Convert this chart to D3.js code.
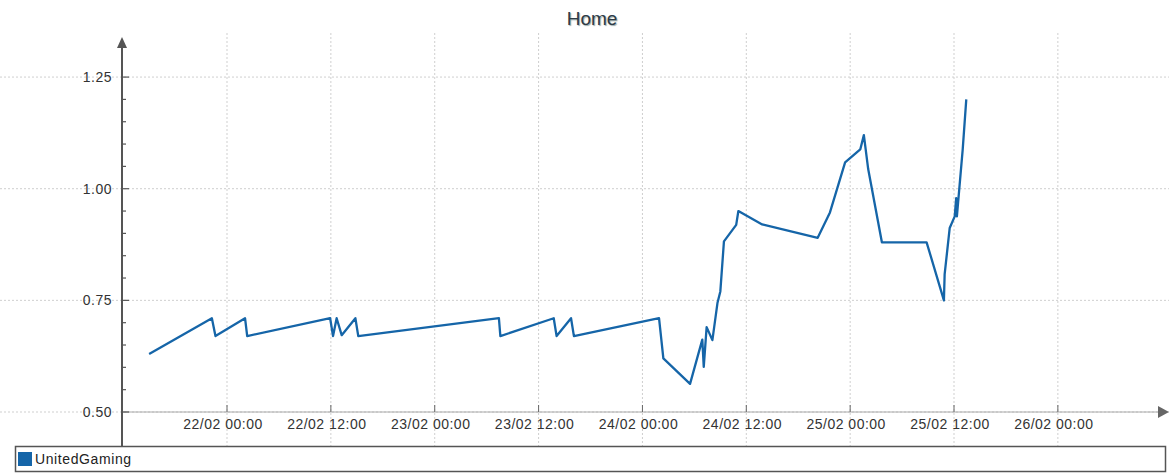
<!DOCTYPE html>
<html>
<head>
  <title>Home</title>
  <meta charset="utf-8">
  <script src="https://d3js.org/d3.v7.min.js"></script>
  <style>
    body{
      margin: 0;
      background-color: white;
    }
    text{
      font-family: "Liberation Sans", Arial, sans-serif;
    }
    .grid line{
      stroke: #cfcfcf;
      stroke-width: 1;
      stroke-dasharray: 2,2;
    }
    .tick-label{
      font-size: 14px;
      letter-spacing: 0.5px;
      fill: #333;
    }
    .title{
      font-size: 19px;
      fill: #2e3a46;
    }
  </style>
</head>
<body>
<svg id="chart"></svg>

<script type="text/javascript">
var width = 1169;
var height = 474;

// series data (time as dd/mm HH:MM, odds value)
var seriesName = "UnitedGaming";
var times = [
  "21/02 15:00", "21/02 22:15", "21/02 22:40", "22/02 02:05", "22/02 02:20",
  "22/02 11:55", "22/02 12:15", "22/02 12:40", "22/02 13:15", "22/02 14:50",
  "22/02 15:10", "23/02 07:25", "23/02 07:35", "23/02 13:45", "23/02 14:05",
  "23/02 15:45", "23/02 16:05", "24/02 01:55", "24/02 02:25", "24/02 05:30",
  "24/02 06:55", "24/02 07:05", "24/02 07:25", "24/02 08:05", "24/02 08:40",
  "24/02 09:00", "24/02 09:25", "24/02 10:50", "24/02 11:05", "24/02 13:50",
  "24/02 20:15", "24/02 21:40", "24/02 23:25", "25/02 01:10", "25/02 01:35",
  "25/02 02:05", "25/02 03:40", "25/02 08:50", "25/02 10:50", "25/02 10:55",
  "25/02 11:30", "25/02 12:05", "25/02 12:15", "25/02 12:20", "25/02 13:00",
  "25/02 13:25"
];
var values = [
  0.630, 0.710, 0.670, 0.710, 0.670,
  0.710, 0.670, 0.710, 0.672, 0.710,
  0.670, 0.710, 0.670, 0.710, 0.670,
  0.710, 0.670, 0.710, 0.620, 0.563,
  0.662, 0.601, 0.690, 0.661, 0.744,
  0.770, 0.882, 0.919, 0.950, 0.920,
  0.890, 0.947, 1.059, 1.088, 1.120,
  1.044, 0.880, 0.880, 0.750, 0.808,
  0.912, 0.938, 0.979, 0.938, 1.087,
  1.200
];

// axis settings
var xStart = "21/02 11:52";
var xEnd = "26/02 11:48";
var xTicks = ["22/02 00:00", "22/02 12:00", "23/02 00:00", "23/02 12:00", "24/02 00:00",
              "24/02 12:00", "25/02 00:00", "25/02 12:00", "26/02 00:00"];
var yTicks = [0.50, 0.75, 1.00, 1.25];
var yMax = 1.3375;

var parse = d3.timeParse("%d/%m %H:%M");
var fmt = d3.timeFormat("%d/%m %H:%M");

var data = times.map(function(t, i) { return { date: parse(t), value: values[i] }; });

var svg = d3.select("#chart").attr("width", width).attr("height", height);

var x = d3.scaleTime()
    .domain([parse(xStart), parse(xEnd)])
    .range([122, 1160]);

var y = d3.scaleLinear()
    .domain([0.5, yMax])
    .range([412, 38]);

var axisColor = "#555";
var lineColor = "#1565a8";

// grid lines
var grid = svg.append("g").attr("class", "grid");
grid.selectAll(".h")
  .data(yTicks)
  .enter().append("line")
    .attr("x1", 0)
    .attr("x2", width)
    .attr("y1", function(d) { return y(d); })
    .attr("y2", function(d) { return y(d); });
grid.selectAll(".v")
  .data(xTicks.map(parse))
  .enter().append("line")
    .attr("x1", function(d) { return x(d); })
    .attr("x2", function(d) { return x(d); })
    .attr("y1", 33)
    .attr("y2", 446);

// title
svg.append("text")
  .attr("class", "title")
  .attr("x", 592)
  .attr("y", 25)
  .attr("text-anchor", "middle")
  .style("text-shadow", "1px 1px 1px #9aa")
  .text("Home");

// x axis line with arrow
svg.append("line")
  .attr("x1", x.range()[0])
  .attr("x2", x.range()[1])
  .attr("y1", y(0.5))
  .attr("y2", y(0.5))
  .attr("stroke", "#aaa")
  .attr("stroke-width", 1);
svg.append("path")
  .attr("d", "M" + (x.range()[1] - 2) + "," + (y(0.5) - 6) + "l11,6l-11,6z")
  .attr("fill", "#666");

// x ticks + labels
var xAxis = svg.append("g");
xAxis.selectAll("line")
  .data(xTicks.map(parse))
  .enter().append("line")
    .attr("x1", function(d) { return x(d); })
    .attr("x2", function(d) { return x(d); })
    .attr("y1", y(0.5))
    .attr("y2", y(0.5) - 7)
    .attr("stroke", "#666");
xAxis.selectAll("text")
  .data(xTicks.map(parse))
  .enter().append("text")
    .attr("class", "tick-label")
    .attr("x", function(d) { return x(d) - 4; })
    .attr("y", 429)
    .attr("text-anchor", "middle")
    .text(function(d) { return fmt(d); });

// y axis with arrow, major and minor ticks
svg.append("line")
  .attr("x1", x.range()[0])
  .attr("x2", x.range()[0])
  .attr("y1", 446)
  .attr("y2", y(yMax) + 8)
  .attr("stroke", axisColor)
  .attr("stroke-width", 2);
svg.append("path")
  .attr("d", "M" + (x.range()[0] - 5) + "," + (y(yMax) + 10) + "l5,-11l5,11z")
  .attr("fill", axisColor);

var minor = d3.range(0.5, 1.30, 0.05);
svg.append("g").selectAll("line")
  .data(minor)
  .enter().append("line")
    .attr("x1", x.range()[0])
    .attr("x2", function(d) { return x.range()[0] + (Math.abs(d * 4 - Math.round(d * 4)) < 1e-6 ? 7 : 4); })
    .attr("y1", function(d) { return y(d); })
    .attr("y2", function(d) { return y(d); })
    .attr("stroke", axisColor)
    .attr("stroke-width", 1.2);

svg.append("g").selectAll("text")
  .data(yTicks)
  .enter().append("text")
    .attr("class", "tick-label")
    .attr("x", 112)
    .attr("y", function(d) { return y(d) + 5; })
    .attr("text-anchor", "end")
    .text(function(d) { return d3.format(".2f")(d); });

// the series line
var line = d3.line()
    .x(function(d) { return x(d.date); })
    .y(function(d) { return y(d.value); });

svg.append("path")
  .datum(data)
  .attr("d", line)
  .attr("fill", "none")
  .attr("stroke", lineColor)
  .attr("stroke-width", 2.3)
  .attr("stroke-linejoin", "round");

// legend box
svg.append("rect")
  .attr("x", 15.5)
  .attr("y", 446.5)
  .attr("width", 1150)
  .attr("height", 25)
  .attr("fill", "white")
  .attr("stroke", "#555")
  .attr("stroke-width", 1.5);
svg.append("rect")
  .attr("x", 18)
  .attr("y", 452)
  .attr("width", 14)
  .attr("height", 14)
  .attr("fill", lineColor);
svg.append("text")
  .attr("x", 35)
  .attr("y", 464)
  .style("font-size", "14px")
  .style("letter-spacing", "0.6px")
  .attr("fill", "#222")
  .text(seriesName);
</script>
</body>
</html>
